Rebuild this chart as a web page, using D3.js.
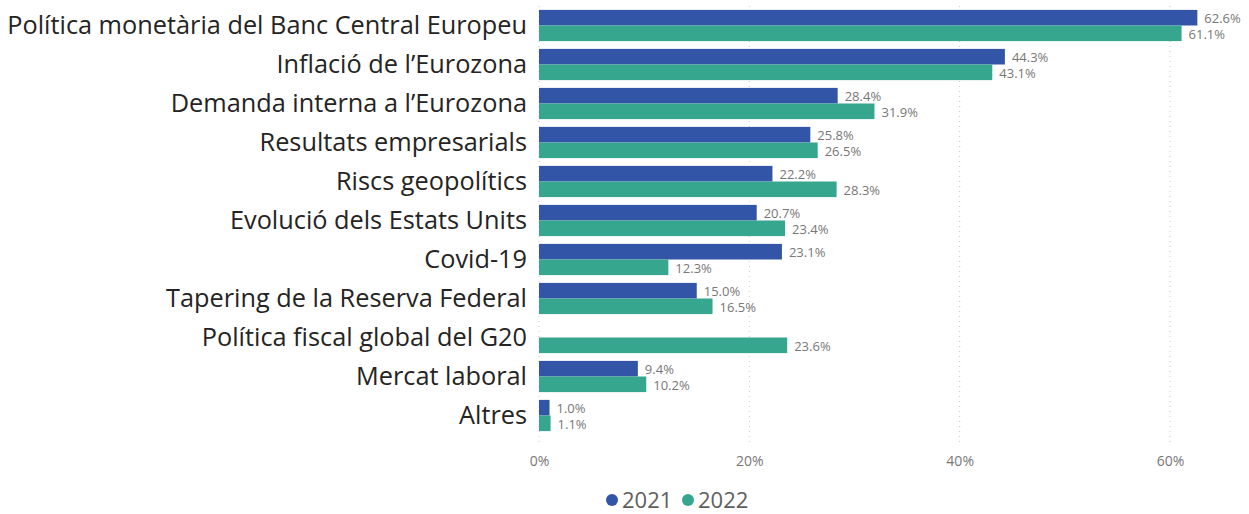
<!DOCTYPE html>
<html>
<head>
<meta charset="utf-8">
<script src="https://cdn.jsdelivr.net/npm/d3@7"></script>
<style>
  body { margin: 0; background: #fff; }
  svg { display: block; font-family: "Open Sans", sans-serif; }
</style>
</head>
<body>
<svg></svg>
<script>
// dades
const categories = [
    "Política monetària del Banc Central Europeu",
    "Inflació de l’Eurozona",
    "Demanda interna a l’Eurozona",
    "Resultats empresarials",
    "Riscs geopolítics",
    "Evolució dels Estats Units",
    "Covid-19",
    "Tapering de la Reserva Federal",
    "Política fiscal global del G20",
    "Mercat laboral",
    "Altres"
];
const values2021 = [62.6, 44.3, 28.4, 25.8, 22.2, 20.7, 23.1, 15.0, null, 9.4, 1.0];
const values2022 = [61.1, 43.1, 31.9, 26.5, 28.3, 23.4, 12.3, 16.5, 23.6, 10.2, 1.1];
const seriesNames = ["2021", "2022"];
const xTicks = [0, 20, 40, 60];

const width = 1249;
const height = 514;
const colors = ["#3355A8", "#37A68F"];

const svg = d3.select("svg")
    .attr("width", width)
    .attr("height", height);

const x = d3.scaleLinear()
    .domain([0, 60])
    .range([539, 1170]);

const y = d3.scaleBand()
    .domain(categories)
    .range([6, 435])
    .paddingInner(0.2)
    .paddingOuter(0.1);

const sub = d3.scaleBand()
    .domain(seriesNames)
    .range([0, y.bandwidth()]);

// graella
svg.append("g")
    .selectAll("line")
    .data(xTicks)
    .enter()
    .append("line")
    .attr("x1", d => x(d))
    .attr("x2", d => x(d))
    .attr("y1", 6)
    .attr("y2", 445)
    .attr("stroke", "#c8c8c8")
    .attr("stroke-width", 1)
    .attr("stroke-dasharray", "1,4");

// eix x
const xAxis = d3.axisBottom(x)
    .tickValues(xTicks)
    .tickFormat(d => d + "%")
    .tickSize(0)
    .tickPadding(0);

svg.append("g")
    .attr("transform", "translate(0,456)")
    .call(xAxis)
    .call(g => g.select(".domain").remove())
    .selectAll("text")
    .attr("font-size", 14)
    .attr("fill", "#777")
    .attr("font-family", "Open Sans, sans-serif");

// eix y
const yAxis = d3.axisLeft(y).tickSize(0).tickPadding(12);
svg.append("g")
    .attr("transform", "translate(539,0)")
    .call(yAxis)
    .call(g => g.select(".domain").remove())
    .selectAll("text")
    .attr("font-size", 25.3)
    .attr("fill", "#252423")
    .attr("font-family", "Open Sans, sans-serif");

// barres
const rows = categories.map((c, i) => ({ cat: c, vals: [values2021[i], values2022[i]] }));

const groups = svg.append("g")
    .selectAll("g")
    .data(rows)
    .enter()
    .append("g")
    .attr("transform", d => `translate(0,${y(d.cat)})`);

const items = groups.selectAll("g")
    .data(d => d.vals.map((v, k) => ({ v: v, s: seriesNames[k], k: k })).filter(e => e.v != null))
    .enter()
    .append("g");

items.append("rect")
    .attr("x", x(0))
    .attr("y", d => sub(d.s))
    .attr("width", d => x(d.v) - x(0))
    .attr("height", sub.bandwidth())
    .attr("fill", d => colors[d.k]);

items.append("text")
    .attr("x", d => x(d.v) + 7)
    .attr("y", d => sub(d.s) + sub.bandwidth() / 2 + 1)
    .attr("dy", "0.35em")
    .attr("font-size", 13)
    .attr("fill", "#777")
    .text(d => d.v.toFixed(1) + "%");

// llegenda
const legend = svg.append("g").attr("transform", "translate(0,500)");
const legendX = [612, 688];
seriesNames.forEach((s, i) => {
    legend.append("circle")
        .attr("cx", legendX[i])
        .attr("cy", 0)
        .attr("r", 6)
        .attr("fill", colors[i]);
    legend.append("text")
        .attr("x", legendX[i] + 10)
        .attr("y", 0)
        .attr("dy", "0.35em")
        .attr("font-size", 22)
        .attr("fill", "#605e5c")
        .text(s);
});
</script>
</body>
</html>
